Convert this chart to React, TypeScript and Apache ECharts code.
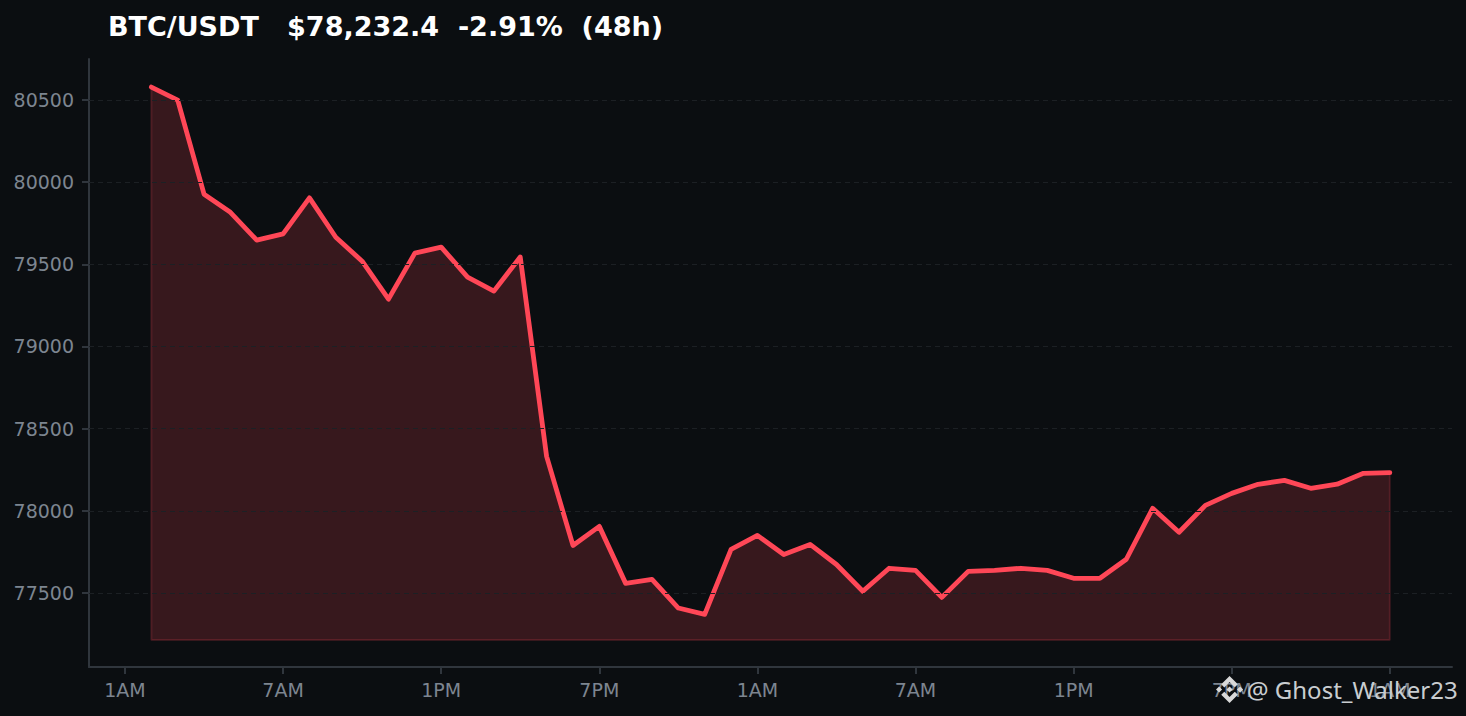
import React, { useEffect, useRef } from "react";
import * as echarts from "echarts";

const hours = [2,3,4,5,6,7,8,9,10,11,12,13,14,15,16,17,18,19,20,21,22,23,24,25,26,27,28,29,30,31,32,33,34,35,36,37,38,39,40,41,42,43,44,45,46,47,48,49];
const prices = [80579,80500,79927,79817,79647,79685,79905,79665,79519,79288,79568,79605,79422,79337,79545,78331,77789,77905,77558,77582,77408,77369,77765,77850,77734,77795,77673,77510,77650,77637,77473,77631,77637,77650,77637,77589,77589,77705,78015,77869,78033,78106,78161,78185,78137,78162,78228,78232.4];
const tickHours = [1,7,13,19,25,31,37,43,49];
const tickLabels = ["1AM","7AM","1PM","7PM","1AM","7AM","1PM","7PM","1AM"];
const yTicks = [77500,78000,78500,79000,79500,80000,80500];
const titleText = "BTC/USDT   $78,232.4  -2.91%  (48h)";
const watermark = "@ Ghost_Walker23";
const fillBase = 77214;

const BG = "#0b0e11";
const RED = "#ff4757";
const AXIS = "#30363d";
const MUTED = "#7d8590";

const LOGO = "M16.624 13.9202l2.7175 2.7154-7.353 7.353-7.353-7.352 2.7175-2.7164 4.6355 4.6595 4.6356-4.6595zm4.6366-4.6366L24 12l-2.7154 2.7164L18.5682 12l2.6924-2.7164zm-9.272.001l2.7163 2.6914-2.7164 2.7174v-.001L9.2721 12l2.7164-2.7154zm-9.2722-.001L5.4088 12l-2.6914 2.6924L0 12l2.7164-2.7164zM11.9885.0115l7.353 7.329-2.7174 2.7154-4.6356-4.6356-4.6355 4.6595-2.7174-2.7154 7.353-7.353z";
echarts.graphic.registerShape("logo", echarts.graphic.extendPath(LOGO as any, {}) as any);

export default function App() {
  const ref = useRef<HTMLDivElement>(null);
  useEffect(() => {
    document.body.style.margin = "0";
    document.body.style.background = BG;
    const chart = echarts.init(ref.current!, null, { renderer: "svg" });
    const last = hours.length - 1;
    chart.setOption({
      animation: false,
      backgroundColor: BG,
      textStyle: { fontFamily: "DejaVu Sans" },
      title: {
        text: titleText,
        left: 108,
        top: 13,
        padding: 0,
        textStyle: { color: "#ffffff", fontSize: 27, fontWeight: "bold", fontFamily: "DejaVu Sans" },
      },
      grid: { left: 89, top: 59, width: 1363, height: 608, containLabel: false },
      xAxis: {
        type: "value",
        min: -0.366,
        max: 51.36,
        axisLine: { show: true, onZero: false, lineStyle: { color: AXIS, width: 2 } },
        axisTick: { show: true, length: 7, customValues: tickHours, lineStyle: { color: AXIS, width: 2 } },
        splitLine: { show: false },
        axisLabel: {
          show: true,
          customValues: tickHours,
          color: MUTED,
          fontSize: 19,
          margin: 13,
          formatter: (v: number) => tickLabels[tickHours.indexOf(v)] ?? "",
        },
      },
      yAxis: {
        type: "value",
        min: 77049,
        max: 80750,
        axisLine: { show: true, onZero: false, lineStyle: { color: AXIS, width: 2 } },
        axisTick: { show: true, length: 7, customValues: yTicks, lineStyle: { color: AXIS, width: 2 } },
        splitLine: { show: false },
        axisLabel: {
          show: true,
          customValues: yTicks,
          color: MUTED,
          fontSize: 19,
          margin: 15,
          formatter: (v: number) => String(v),
        },
      },
      series: [
        {
          type: "line",
          silent: true,
          symbol: "none",
          data: yTicks.map((v) => [-0.366, v]),
          lineStyle: { width: 0 },
          markLine: {
            silent: true,
            symbol: "none",
            label: { show: false },
            lineStyle: { color: "#1c2024", type: [5, 4], width: 1 },
            data: yTicks.map((v) => ({ yAxis: v })),
          },
        },
        {
          type: "line",
          silent: true,
          symbol: "none",
          z: 3,
          data: [
            [hours[0], prices[0]],
            [hours[0], fillBase],
            [hours[last], fillBase],
            [hours[last], prices[last]],
          ],
          lineStyle: { color: "rgba(255,71,87,0.18)", width: 2 },
        },
        {
          type: "line",
          silent: true,
          symbol: "none",
          z: 4,
          data: hours.map((h, i) => [h, prices[i]]),
          lineStyle: { color: RED, width: 4.8, cap: "round", join: "round" },
          areaStyle: { color: RED, opacity: 0.18, origin: fillBase },
        },
      ],
      graphic: [
        { type: "logo", x: 1216, y: 676, scaleX: 1.13, scaleY: 1.13, z: 100, style: { fill: "#d9d9d9" } },
        {
          type: "text",
          x: 1247,
          y: 677,
          z: 100,
          style: { text: watermark, fill: "#c9cdd0", fontSize: 24, fontFamily: "Noto Sans" },
        },
      ],
    });
    return () => chart.dispose();
  }, []);
  return <div ref={ref} style={{ width: 1466, height: 716 }} />;
}
